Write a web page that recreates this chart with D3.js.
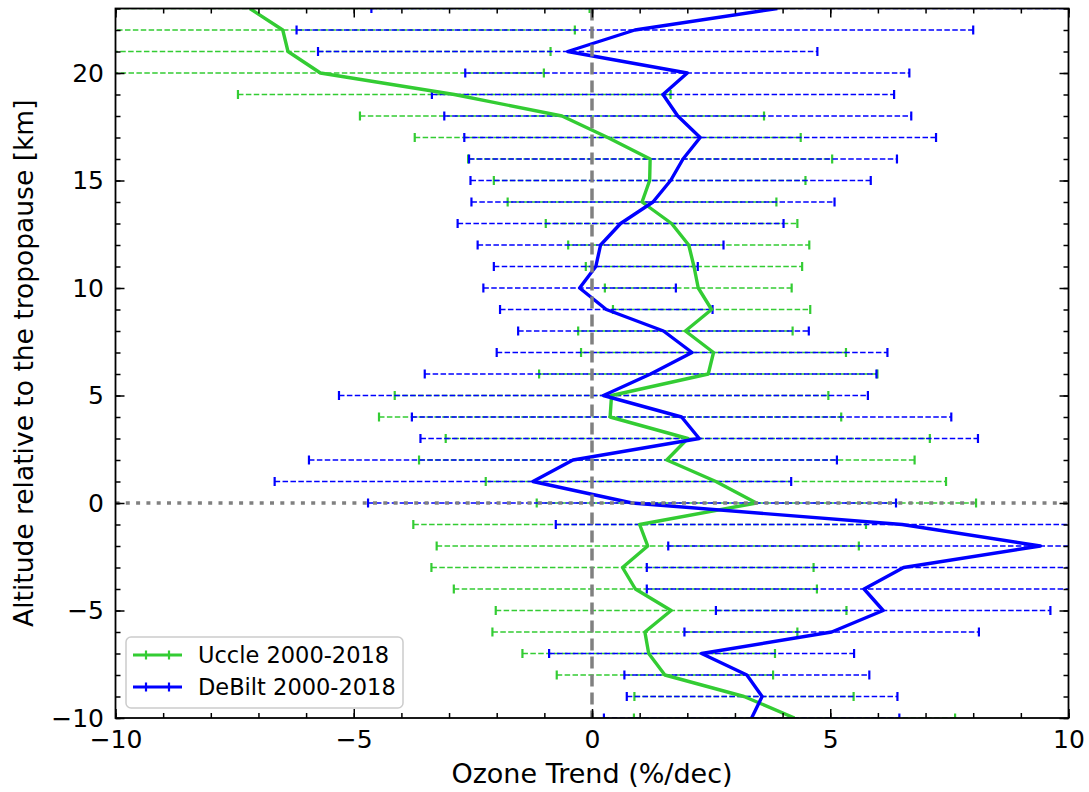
<!DOCTYPE html>
<html lang="en">
<head>
    <meta charset="utf-8">
    <title>Ozone trend profiles</title>
    <script src="https://cdn.jsdelivr.net/npm/d3@7"></script>
</head>
<style>
    body { margin: 0; background: #fff; }
    svg text { font-family: "DejaVu Sans", sans-serif; }
    .tick text { font-size: 25px; fill: #000; font-family: "DejaVu Sans", sans-serif; }
    .tick line { stroke: #000; stroke-width: 1.5px; }
</style>
<body>
<script type="text/javascript">

    // altitude relative to tropopause (km)
    var altitudes = [23, 22, 21, 20, 19, 18, 17, 16, 15, 14, 13, 12, 11, 10, 9, 8, 7, 6, 5, 4, 3, 2, 1, 0,
        -1, -2, -3, -4, -5, -6, -7, -8, -9, -10];

    // Uccle 2000-2018 trend and uncertainty (%/dec)
    var uccleTrend = [-7.18, -6.49, -6.38, -5.70, -2.89, -0.63, 0.33, 1.22, 1.21, 1.05, 1.67, 2.03, 2.14, 2.23,
        2.51, 1.96, 2.55, 2.44, 0.41, 0.38, 2.01, 1.57, 2.60, 3.45,
        1.00, 1.17, 0.64, 0.91, 1.66, 1.11, 1.19, 1.53, 3.19, 4.25];
    var uccleErr = [7.13, 6.13, 5.51, 4.69, 4.54, 4.24, 4.05, 3.82, 3.27, 2.82, 2.64, 2.53, 2.27, 1.96,
        2.07, 2.25, 2.78, 3.55, 4.55, 4.85, 5.08, 5.20, 4.83, 4.61,
        4.75, 4.43, 4.01, 3.81, 3.68, 3.20, 2.65, 2.27, 2.30, 3.37];

    // DeBilt 2000-2018 trend and uncertainty (%/dec)
    var debiltTrend = [3.89, 0.90, -0.51, 2.00, 1.49, 1.80, 2.27, 1.91, 1.65, 1.28, 0.60, 0.18, 0.08, -0.26,
        0.30, 1.50, 2.10, 1.23, 0.24, 1.88, 2.25, -0.40, -1.24, 0.84,
        6.51, 9.41, 6.54, 5.71, 6.11, 5.03, 2.30, 3.25, 3.57, 3.35];
    var debiltErr = [8.52, 7.10, 5.24, 4.66, 4.85, 4.90, 4.95, 4.49, 4.20, 3.81, 3.42, 2.58, 2.14, 2.02,
        2.23, 3.05, 4.10, 4.74, 5.55, 5.66, 5.85, 5.54, 5.42, 5.54,
        7.27, 7.81, 5.39, 4.56, 3.51, 3.09, 3.20, 2.57, 2.84, 3.10];

    var seriesNames = ['Uccle 2000-2018', 'DeBilt 2000-2018'];
    var seriesColors = ['#33cc33', '#0000ff'];

    var xTicks = [-10, -5, 0, 5, 10];
    var yTicks = [-10, -5, 0, 5, 10, 15, 20];

    var width = 1089, height = 792;
    var pLeft = 115.5, pRight = 1068.5, pTop = 8.5, pBottom = 718;

    var svg = d3.select('body').append('svg')
        .attr('width', width)
        .attr('height', height);

    var x = d3.scaleLinear().domain([-10, 10]).range([pLeft, pRight]);
    var y = d3.scaleLinear().domain([-10, 23]).range([pBottom, pTop]);

    svg.append('clipPath').attr('id', 'plotClip')
        .append('rect')
        .attr('x', pLeft).attr('y', pTop)
        .attr('width', pRight - pLeft).attr('height', pBottom - pTop);

    var series = [
        {name: seriesNames[0], color: seriesColors[0], trend: uccleTrend, err: uccleErr},
        {name: seriesNames[1], color: seriesColors[1], trend: debiltTrend, err: debiltErr}
    ];
    series.forEach(function(s) {
        s.points = altitudes.map(function(a, i) {
            return {alt: a, v: s.trend[i], e: s.err[i]};
        });
    });

    var plot = svg.append('g').attr('clip-path', 'url(#plotClip)');

    // error bars (dashed) with caps
    series.forEach(function(s) {
        var g = plot.append('g');
        g.selectAll('line.bar')
            .data(s.points)
            .enter()
            .append('line')
            .attr('x1', function(d) { return x(d.v - d.e); })
            .attr('x2', function(d) { return x(d.v + d.e); })
            .attr('y1', function(d) { return y(d.alt); })
            .attr('y2', function(d) { return y(d.alt); })
            .attr('stroke', s.color)
            .attr('stroke-width', 1.5)
            .attr('stroke-dasharray', '5.5,2.4');
        [-1, 1].forEach(function(sign) {
            g.selectAll('line.cap' + sign)
                .data(s.points)
                .enter()
                .append('line')
                .attr('x1', function(d) { return x(d.v + sign * d.e); })
                .attr('x2', function(d) { return x(d.v + sign * d.e); })
                .attr('y1', function(d) { return y(d.alt) - 4.5; })
                .attr('y2', function(d) { return y(d.alt) + 4.5; })
                .attr('stroke', s.color)
                .attr('stroke-width', 2.2);
        });
    });

    var line = d3.line()
        .x(function(d) { return x(d.v); })
        .y(function(d) { return y(d.alt); });

    series.forEach(function(s) {
        plot.append('path')
            .datum(s.points)
            .attr('d', line)
            .attr('fill', 'none')
            .attr('stroke', s.color)
            .attr('stroke-width', 3.4)
            .attr('stroke-linejoin', 'round');
    });

    // reference lines
    plot.append('line')
        .attr('x1', x(0)).attr('x2', x(0))
        .attr('y1', pTop).attr('y2', pBottom)
        .attr('stroke', '#808080')
        .attr('stroke-width', 3.5)
        .attr('stroke-dasharray', '12,6');
    plot.append('line')
        .attr('x1', pLeft).attr('x2', pRight)
        .attr('y1', y(0)).attr('y2', y(0))
        .attr('stroke', '#808080')
        .attr('stroke-width', 3.5)
        .attr('stroke-dasharray', '4,6.3');

    // axes with inward ticks on all sides
    var minorX = d3.range(-10, 11, 1), minorY = d3.range(-10, 24, 1);

    function addAxis(axisFn, scale, pos, major, minor, labels, pad) {
        var g = svg.append('g').attr('transform', pos);
        g.call(axisFn(scale).tickValues(minor).tickSize(-5).tickFormat(''));
        var gm = svg.append('g').attr('transform', pos);
        gm.call(axisFn(scale).tickValues(major).tickSize(-9).tickPadding(pad)
            .tickFormat(labels ? function(d) { return d < 0 ? '\u2212' + Math.abs(d) : d; } : ''));
        g.select('.domain').remove();
        gm.select('.domain').remove();
        return gm;
    }
    addAxis(d3.axisBottom, x, 'translate(0,' + pBottom + ')', xTicks, minorX, true, 12.5);
    addAxis(d3.axisTop, x, 'translate(0,' + pTop + ')', xTicks, minorX, false, 12);
    addAxis(d3.axisLeft, y, 'translate(' + pLeft + ',0)', yTicks, minorY, true, 11.5);
    addAxis(d3.axisRight, y, 'translate(' + pRight + ',0)', yTicks, minorY, false, 12);

    svg.append('rect')
        .attr('x', pLeft).attr('y', pTop)
        .attr('width', pRight - pLeft).attr('height', pBottom - pTop)
        .attr('fill', 'none')
        .attr('stroke', '#000')
        .attr('stroke-width', 1.8);

    // axis labels
    svg.append('text')
        .attr('x', (pLeft + pRight) / 2)
        .attr('y', 783)
        .attr('text-anchor', 'middle')
        .style('font-size', '27px')
        .text('Ozone Trend (%/dec)');
    svg.append('text')
        .attr('transform', 'translate(33,' + ((pTop + pBottom) / 2) + ') rotate(-90)')
        .attr('text-anchor', 'middle')
        .style('font-size', '26.5px')
        .text('Altitude relative to the tropopause [km]');

    // legend
    var legend = svg.append('g');
    legend.append('rect')
        .attr('x', 126).attr('y', 637)
        .attr('width', 277).attr('height', 71)
        .attr('rx', 5)
        .attr('fill', '#fff')
        .attr('fill-opacity', 0.8)
        .attr('stroke', '#cccccc')
        .attr('stroke-width', 1.5);

    var items = legend.selectAll('g.item')
        .data(series)
        .enter()
        .append('g')
        .attr('transform', function(d, i) { return 'translate(0,' + (655 + i * 32) + ')'; });
    items.append('line')
        .attr('x1', 133).attr('x2', 182)
        .attr('stroke', function(d) { return d.color; })
        .attr('stroke-width', 3);
    [146, 169].forEach(function(cx) {
        items.append('line')
            .attr('x1', cx).attr('x2', cx)
            .attr('y1', -4.5).attr('y2', 4.5)
            .attr('stroke', function(d) { return d.color; })
            .attr('stroke-width', 2.2);
    });
    items.append('text')
        .attr('x', 198)
        .attr('dy', '0.36em')
        .style('font-size', '22.5px')
        .text(function(d) { return d.name; });

</script>
</body>
</html>
